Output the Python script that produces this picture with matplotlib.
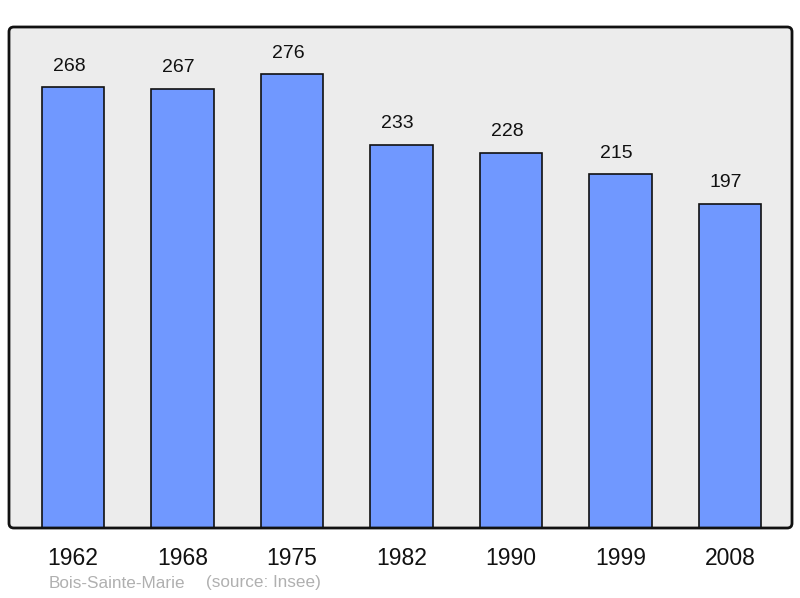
import matplotlib
matplotlib.use("Agg")
import matplotlib.pyplot as plt
from matplotlib.patches import FancyBboxPatch

years = ["1962", "1968", "1975", "1982", "1990", "1999", "2008"]
population = [268, 267, 276, 233, 228, 215, 197]
commune = "Bois-Sainte-Marie"
source = "(source: Insee)"

plt.rcParams['font.family'] = ['Liberation Sans', 'DejaVu Sans']

fig = plt.figure(figsize=(8, 5.98), dpi=100)
ax = fig.add_axes([9/800, 70/598, 783/800, 501/598])
ax.set_facecolor('#ececec')

x = list(range(len(years)))
bars = ax.bar(x, population, width=0.57, color='#7098ff', edgecolor='#111111', linewidth=1.2, zorder=2)
for xi, v in zip(x, population):
    ax.annotate(str(v), (xi, v), xytext=(-3, 9), textcoords='offset points',
                ha='center', va='bottom', fontsize=14, color='#111111')

ax.set_xlim(-0.585, 6.565)
ax.set_ylim(0, 304.6)
ax.set_xticks(x)
ax.set_xticklabels(years, fontsize=16.5, color='#111111')
ax.tick_params(axis='x', length=0, pad=14)
ax.set_yticks([])
for s in ax.spines.values():
    s.set_visible(False)

frame = FancyBboxPatch((9/800, 70/598), 783/800, 501/598,
                       boxstyle="round,pad=0,rounding_size=0.006",
                       transform=fig.transFigure, fill=False,
                       edgecolor='#111111', linewidth=2, zorder=5,
                       mutation_aspect=800/598)
fig.patches.append(frame)

fig.text(49/800, 1 - 583/598, commune, fontsize=12.3, color='#b0b0b0',
         ha='left', va='center')
fig.text(206/800, 1 - 583/598, source, fontsize=12.3, color='#b0b0b0',
         ha='left', va='center')

fig.savefig("out.png", dpi=100)
